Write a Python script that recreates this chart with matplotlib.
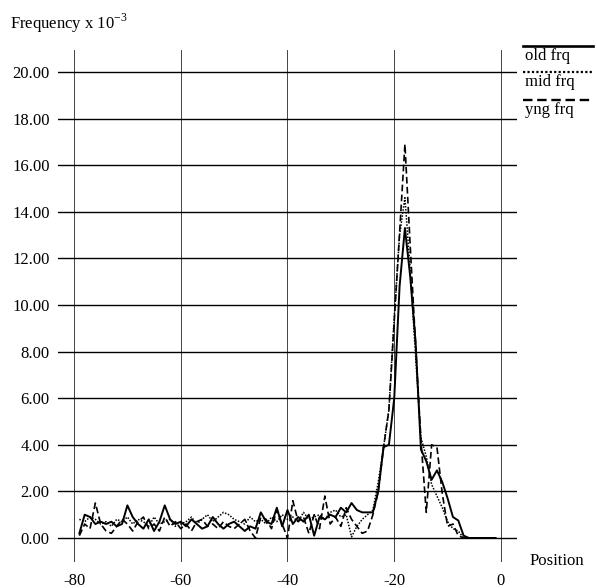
import numpy as np
import matplotlib
matplotlib.use("Agg")
import matplotlib.pyplot as plt
from matplotlib.lines import Line2D

plt.rcParams['font.family'] = ['Liberation Serif', 'DejaVu Serif']
plt.rcParams['font.size'] = 12

# positions along the sequence
positions = np.arange(-79, 0)

# frequency x 10^-3
old_frq = [0.2, 1.0, 0.9, 0.6, 0.7, 0.6, 0.7, 0.5, 0.6, 1.4,
           0.9, 0.6, 0.4, 0.8, 0.3, 0.7, 1.4, 0.8, 0.6, 0.7,
           0.5, 0.8, 0.6, 0.4, 0.5, 0.9, 0.6, 0.4, 0.6, 0.7,
           0.5, 0.3, 0.5, 0.4, 1.1, 0.7, 0.6, 1.3, 0.5, 1.2,
           0.6, 0.9, 0.7, 1.0, 0.1, 0.9, 0.8, 1.0, 0.9, 1.3,
           1.1, 1.5, 1.2,
           1.1, 1.1, 1.1, 2.0, 3.9, 4.0, 6.0, 10.8, 13.3, 11.2,
           8.4, 3.8, 3.3, 2.5, 2.9, 2.4, 1.7, 0.9, 0.75, 0.1,
           0.0, 0.0, 0.0, 0.0, 0.0, 0.0]
mid_frq = [0.8, 0.7, 0.9, 0.8, 0.6, 0.7, 0.5, 0.8, 0.7, 0.9,
           0.6, 0.8, 0.7, 0.5, 0.9, 0.6, 0.7, 0.8, 0.5, 0.6,
           0.7, 0.9, 0.6, 0.8, 1.0, 0.7, 0.9, 1.1, 1.0, 0.8,
           0.7, 0.6, 0.9, 0.7, 0.8, 0.6, 0.9, 0.7, 1.0, 0.8,
           0.9, 0.7, 1.1, 0.8, 0.9, 1.0, 0.8, 1.1, 1.2, 0.9,
           1.0, 0.05, 0.5,
           0.8, 1.0, 1.2, 2.4, 3.9, 5.5, 9.5, 13.0, 14.6, 11.5,
           7.8, 4.3, 3.5, 2.3, 1.8, 1.3, 0.7, 0.4, 0.3, 0.0,
           0.0, 0.0, 0.0, 0.0, 0.0, 0.0]
yng_frq = [0.1, 0.6, 0.4, 1.5, 0.6, 0.3, 0.2, 0.5, 0.8, 0.6,
           0.3, 0.7, 0.9, 0.4, 0.6, 0.3, 0.9, 0.5, 0.7, 0.4,
           0.6, 0.3, 0.7, 0.8, 0.5, 0.6, 0.4, 0.7, 0.5, 0.4,
           0.6, 0.8, 0.3, 0.0, 0.9, 0.8, 0.4, 1.2, 0.6, 0.0,
           1.6, 0.7, 0.9, 0.2, 1.0, 0.4, 1.8, 0.6, 0.9, 0.5,
           1.3, 0.8, 0.5,
           0.2, 0.3, 1.0, 2.0, 3.9, 5.5, 9.3, 13.1, 16.9, 12.5,
           8.3, 4.2, 1.1, 4.0, 3.9, 1.9, 0.5, 0.6, 0.1, 0.0,
           0.0, 0.0, 0.0, 0.0, 0.0, 0.0]

series = [("old frq", old_frq, "-", 1.4),
          ("mid frq", mid_frq, (0, (1, 1)), 1.1),
          ("yng frq", yng_frq, (0, (4, 2)), 1.2)]

x_ticks = [-80, -60, -40, -20, 0]
y_ticks = np.arange(0, 21, 2)

W, H = 597, 588
fig = plt.figure(figsize=(W / 100, H / 100), dpi=100)
ax = fig.add_axes([58 / W, 1 - 562 / H, (517 - 58) / W, (562 - 50) / H])

for name, vals, ls, lw in series:
    ax.plot(positions, vals, color='black', linestyle=ls, linewidth=lw)

ax.set_xlim(-83, 3)
ax.set_ylim(-1.03, 20.94)
ax.set_xticks(x_ticks)
ax.set_xticklabels([str(t) for t in x_ticks])
ax.set_yticks(y_ticks)
ax.set_yticklabels([f"{v:.2f}" for v in y_ticks])
ax.tick_params(length=0)
ax.tick_params(axis='x', pad=8)
ax.tick_params(axis='y', pad=6)
for s in ax.spines.values():
    s.set_visible(False)
ax.yaxis.grid(True, color='black', linewidth=1.0)
ax.xaxis.grid(True, color='#444444', linewidth=0.7)
ax.set_axisbelow(True)

fig.text(10 / W, 1 - 23 / H, r'Frequency x 10$^{\mathregular{-3}}$', va='center', ha='left')
fig.text(530 / W, 1 - 561 / H, 'Position', va='center', ha='left')

# legend drawn as in the original: line above each label
leg_y = [46, 72, 100]
for (name, vals, ls, lw), ly in zip(series, leg_y):
    fig.add_artist(Line2D([523 / W, 593 / W], [1 - ly / H, 1 - ly / H],
                          color='black', linestyle=ls, linewidth=lw + 0.5,
                          transform=fig.transFigure))
    fig.text(525 / W, 1 - (ly + 10) / H, name, va='center', ha='left')

fig.savefig("out.png", dpi=100)
